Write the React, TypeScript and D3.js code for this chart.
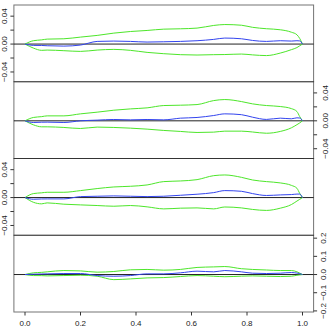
import React from "react";
import * as d3 from "d3";

// shared x grid (fraction of the way through the series)
const xs = [0, 0.03, 0.06, 0.08, 0.14, 0.2, 0.26, 0.32, 0.38, 0.44, 0.5, 0.56, 0.62, 0.68, 0.72, 0.78, 0.82, 0.87, 0.92, 0.96, 0.98, 0.99, 1];

const upper1 = [0, 0.0048, 0.006, 0.0071, 0.0076, 0.01, 0.0124, 0.0157, 0.018, 0.0195, 0.0214, 0.0219, 0.0229, 0.0267, 0.028, 0.027, 0.024, 0.022, 0.0205, 0.017, 0.0133, 0.008, 0];
const lower1 = [0, -0.0057, -0.009, -0.0086, -0.0095, -0.0105, -0.0086, -0.0076, -0.009, -0.0119, -0.0138, -0.0152, -0.0157, -0.0152, -0.015, -0.0143, -0.0155, -0.0165, -0.0129, -0.008, -0.005, -0.0025, 0];
const mean1 = [0, -0.0019, -0.002, -0.0024, -0.0029, -0.0014, 0.0038, 0.0043, 0.0038, 0.0029, 0.0033, 0.0038, 0.0048, 0.0067, 0.0086, 0.0076, 0.0052, 0.0038, 0.0048, 0.0043, 0.0048, 0.0045, 0];

const upper2 = [0, 0.0048, 0.006, 0.0071, 0.0071, 0.01, 0.0124, 0.0152, 0.0171, 0.0186, 0.0219, 0.0224, 0.0233, 0.029, 0.0305, 0.0276, 0.0243, 0.0219, 0.0205, 0.0175, 0.0133, 0.006, 0];
const lower2 = [0, -0.0057, -0.0086, -0.0086, -0.0095, -0.011, -0.009, -0.0095, -0.0105, -0.0119, -0.0138, -0.0152, -0.0167, -0.0162, -0.0148, -0.0148, -0.016, -0.0178, -0.0152, -0.01, -0.0055, -0.003, 0];
const mean2 = [0, -0.0024, -0.002, -0.0019, -0.0024, 0, 0.001, 0.0019, 0.0014, 0.0019, 0.0014, 0.0038, 0.0048, 0.0076, 0.01, 0.0088, 0.0052, 0.002, 0.0038, 0.0029, 0.0043, 0.004, 0];

const upper3 = [0, 0.0057, 0.0068, 0.0076, 0.0076, 0.01, 0.0129, 0.0152, 0.0162, 0.0181, 0.0229, 0.0238, 0.0257, 0.0314, 0.0324, 0.029, 0.0252, 0.0229, 0.021, 0.0175, 0.0133, 0.006, 0];
const lower3 = [0, -0.0067, -0.009, -0.0076, -0.0095, -0.0105, -0.0114, -0.0124, -0.0114, -0.0133, -0.0162, -0.0152, -0.0148, -0.0162, -0.0135, -0.0148, -0.017, -0.0184, -0.0152, -0.01, -0.005, -0.0025, 0];
const mean3 = [0, -0.0024, -0.002, -0.0019, -0.0019, 0.0014, 0.0019, 0.0024, 0.0019, 0.0014, 0.0019, 0.0033, 0.0048, 0.0071, 0.01, 0.009, 0.0057, 0.003, 0.0038, 0.0043, 0.005, 0.005, 0];

const upper4 = [0, 0.0093, 0.012, 0.0148, 0.022, 0.02, 0.013, 0.0167, 0.026, 0.028, 0.024, 0.028, 0.039, 0.042, 0.044, 0.032, 0.028, 0.025, 0.022, 0.022, 0.015, 0.008, 0];
const lower4 = [0, -0.0056, -0.006, -0.0074, -0.0056, -0.0037, -0.0093, -0.028, -0.024, -0.0185, -0.0167, -0.011, -0.0056, -0.0093, -0.012, -0.009, -0.0074, -0.0093, -0.011, -0.0093, -0.004, -0.002, 0];
const mean4 = [0, 0.0019, 0.003, 0.0037, 0.0056, 0.0056, -0.0056, -0.0093, -0.0056, 0.0037, 0.0037, 0.0093, 0.0185, 0.0148, 0.022, 0.0148, 0.0074, 0.0056, 0.0074, 0.011, 0.008, 0.005, 0];

const smallTicks = [-0.04, -0.02, 0, 0.02, 0.04];
const smallLabels = [-0.04, 0, 0.04];
const bigTicks = [-0.2, -0.1, 0, 0.1, 0.2];
const xTicks = [0, 0.2, 0.4, 0.6, 0.8, 1];

const panels = [
  { upper: upper1, lower: lower1, mean: mean1, domain: [-0.054, 0.056], ticks: smallTicks, labels: smallLabels, side: "left", fmt: ".2f" },
  { upper: upper2, lower: lower2, mean: mean2, domain: [-0.054, 0.056], ticks: smallTicks, labels: smallLabels, side: "right", fmt: ".2f" },
  { upper: upper3, lower: lower3, mean: mean3, domain: [-0.054, 0.056], ticks: smallTicks, labels: smallLabels, side: "left", fmt: ".2f" },
  { upper: upper4, lower: lower4, mean: mean4, domain: [-0.206, 0.216], ticks: bigTicks, labels: bigTicks, side: "right", fmt: ".1f" },
];

const W = 334;
const H = 329;
const left = 13.9;
const right = 313.6;
const top = 5;
const bottom = 312;
const ph = (bottom - top) / panels.length;

const fmtNum = (f: string) => (v: number) => d3.format(f)(v).replace("-", "\u2212");

export default function App() {
  const x = d3.scaleLinear().domain([-0.04, 1.04]).range([left, right]);
  const font = "'Liberation Sans', Arial, sans-serif";

  return (
    <svg width={W} height={H} style={{ position: "absolute", left: 0, top: 0, background: "#fff" }} fontFamily={font}>
      {panels.map((p, i) => {
        const y0 = top + i * ph;
        const y = d3.scaleLinear().domain(p.domain).range([y0 + ph, y0]);
        const line = d3
          .line<number>()
          .x((_, j) => x(xs[j]))
          .y((d) => y(d))
          .curve(d3.curveMonotoneX);
        const fmt = fmtNum(p.fmt);
        const isLeft = p.side === "left";
        const ax = isLeft ? left : right;
        const tickDir = isLeft ? -3.5 : 3.5;
        const labelX = isLeft ? 7.3 : i === 1 ? 328 : 325.5;
        return (
          <g key={i}>
            <line x1={left} x2={right} y1={y(0)} y2={y(0)} stroke="#222" strokeWidth={1} />
            <path d={line(p.upper) || ""} fill="none" stroke="#4de62a" strokeWidth={1} />
            <path d={line(p.lower) || ""} fill="none" stroke="#4de62a" strokeWidth={1} />
            <path d={line(p.mean) || ""} fill="none" stroke="#3344ee" strokeWidth={1} />
            <rect x={left} y={y0} width={right - left} height={ph} fill="none" stroke="#000" strokeOpacity={0.55} strokeWidth={1} />
            {p.ticks.map((t) => (
              <line key={t} x1={ax} x2={ax + tickDir} y1={y(t)} y2={y(t)} stroke="#333" strokeWidth={1} />
            ))}
            {p.labels.map((t) => (
              <text
                key={t}
                transform={`translate(${labelX},${y(t)}) rotate(-90)`}
                textAnchor="middle"
                fontSize={8}
                fill="#222"
              >
                {fmt(t)}
              </text>
            ))}
          </g>
        );
      })}
      {xTicks.map((t) => (
        <g key={t}>
          <line x1={x(t)} x2={x(t)} y1={bottom} y2={bottom + 3.5} stroke="#333" strokeWidth={1} />
          <text x={x(t)} y={326} textAnchor="middle" fontSize={8} fill="#222">
            {d3.format(".1f")(t)}
          </text>
        </g>
      ))}
    </svg>
  );
}
